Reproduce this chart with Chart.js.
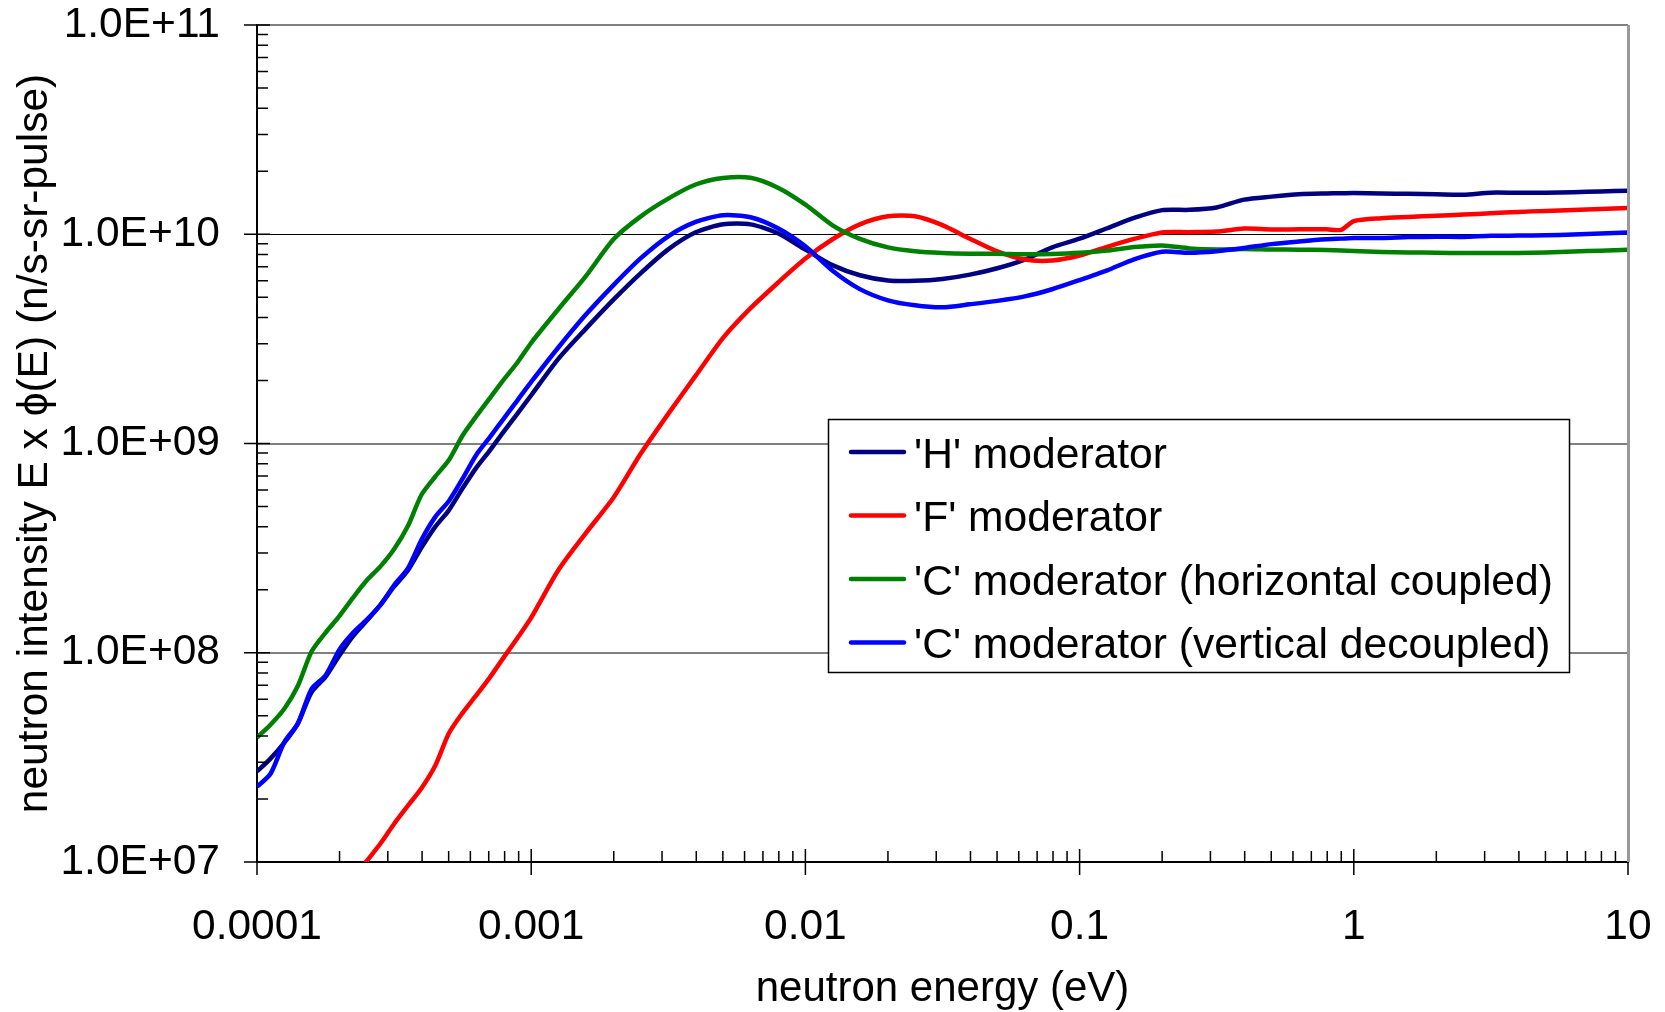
<!DOCTYPE html>
<html>
<head>
<meta charset="utf-8">
<script src="https://cdn.jsdelivr.net/npm/chart.js@4.4.1/dist/chart.umd.min.js"></script>
<style>
  html, body { margin: 0; padding: 0; background: #fff; }
  #fluxChart { display: block; }
</style>
</head>
<body>
<canvas id="fluxChart" width="1665" height="1012" style="width:1665px;height:1012px"></canvas>
<script>
// neutron energy (eV)
const energies = [0.0001, 0.000112, 0.000126, 0.000141, 0.000158, 0.000178, 0.0002, 0.000224, 0.000251, 0.000282,
  0.000316, 0.000355, 0.000398, 0.000447, 0.000501, 0.000562, 0.000631, 0.000708, 0.000794, 0.000891,
  0.001, 0.00126, 0.00158, 0.002, 0.00251, 0.00316, 0.00398, 0.00501, 0.00631, 0.00794,
  0.01, 0.0126, 0.0158, 0.02, 0.0251, 0.0316, 0.0398, 0.0501, 0.0631, 0.0794,
  0.1, 0.126, 0.158, 0.2, 0.251, 0.316, 0.398, 0.501, 0.631, 0.794, 0.9,
  1, 1.26, 1.58, 2, 2.51, 3.16, 3.98, 5.01, 6.31, 7.94, 10];

// E x phi(E) (n/s-sr-pulse)
const hModerator = [2.71e7, 3.12e7, 3.73e7, 4.60e7, 6.47e7, 7.69e7, 9.73e7, 1.201e8, 1.42e8, 1.694e8,
  2.07e8, 2.475e8, 3.18e8, 4.003e8, 4.80e8, 6.107e8, 7.67e8, 9.30e8, 1.14e9, 1.389e9,
  1.70e9, 2.55e9, 3.53e9, 4.88e9, 6.52e9, 8.47e9, 1.022e10, 1.116e10, 1.115e10, 1.011e10,
  8.44e9, 7.10e9, 6.37e9, 6.01e9, 5.99e9, 6.11e9, 6.41e9, 6.88e9, 7.57e9, 8.66e9,
  9.52e9, 1.068e10, 1.197e10, 1.304e10, 1.308e10, 1.343e10, 1.464e10, 1.513e10, 1.554e10, 1.567e10, 1.57e10,
  1.574e10, 1.565e10, 1.560e10, 1.552e10, 1.545e10, 1.580e10, 1.578e10, 1.580e10, 1.589e10, 1.602e10, 1.615e10];

const fModerator = [null, null, null, null, null, null, 6.88e6, 8.33e6, 1.009e7, 1.226e7,
  1.520e7, 1.857e7, 2.252e7, 2.891e7, 4.121e7, 5.159e7, 6.27e7, 7.65e7, 9.50e7, 1.176e8,
  1.471e8, 2.498e8, 3.723e8, 5.534e8, 8.95e8, 1.386e9, 2.109e9, 3.197e9, 4.432e9, 5.866e9,
  7.65e9, 9.49e9, 1.115e10, 1.218e10, 1.218e10, 1.105e10, 9.52e9, 8.28e9, 7.57e9, 7.49e9,
  7.91e9, 8.71e9, 9.50e9, 1.020e10, 1.023e10, 1.030e10, 1.064e10, 1.054e10, 1.056e10, 1.056e10, 1.05e10,
  1.156e10, 1.193e10, 1.209e10, 1.226e10, 1.242e10, 1.260e10, 1.279e10, 1.293e10, 1.307e10, 1.321e10, 1.335e10];

const cHorizontal = [3.933e7, 4.531e7, 5.413e7, 6.954e7, 1.011e8, 1.249e8, 1.502e8, 1.834e8, 2.215e8, 2.587e8,
  3.120e8, 4.031e8, 5.69e8, 6.954e8, 8.33e8, 1.092e9, 1.351e9, 1.653e9, 2.020e9, 2.438e9,
  3.030e9, 4.406e9, 6.295e9, 9.49e9, 1.218e10, 1.480e10, 1.729e10, 1.857e10, 1.861e10, 1.669e10,
  1.386e10, 1.100e10, 9.51e9, 8.65e9, 8.29e9, 8.13e9, 8.07e9, 8.07e9, 8.02e9, 8.05e9,
  8.15e9, 8.35e9, 8.68e9, 8.84e9, 8.56e9, 8.46e9, 8.50e9, 8.45e9, 8.44e9, 8.40e9, 8.36e9,
  8.32e9, 8.22e9, 8.18e9, 8.16e9, 8.13e9, 8.13e9, 8.13e9, 8.19e9, 8.28e9, 8.34e9, 8.44e9];

const cVertical = [2.29e7, 2.640e7, 3.757e7, 4.595e7, 6.705e7, 7.813e7, 1.038e8, 1.245e8, 1.435e8, 1.694e8,
  2.101e8, 2.527e8, 3.466e8, 4.459e8, 5.312e8, 6.791e8, 8.846e8, 1.076e9, 1.316e9, 1.609e9,
  1.969e9, 2.892e9, 4.121e9, 5.731e9, 7.685e9, 9.78e9, 1.145e10, 1.233e10, 1.206e10, 1.068e10,
  8.754e9, 6.673e9, 5.467e9, 4.832e9, 4.574e9, 4.474e9, 4.628e9, 4.804e9, 5.046e9, 5.461e9,
  6.04e9, 6.72e9, 7.59e9, 8.25e9, 8.16e9, 8.30e9, 8.60e9, 8.97e9, 9.23e9, 9.46e9, 9.53e9,
  9.60e9, 9.60e9, 9.69e9, 9.74e9, 9.71e9, 9.83e9, 9.85e9, 9.88e9, 9.98e9, 1.009e10, 1.020e10];

const seriesNames = ["'H' moderator", "'F' moderator", "'C' moderator (horizontal coupled)", "'C' moderator (vertical decoupled)"];
const seriesColors = ['#000080', '#ff0000', '#008000', '#0000ff'];

const xTickValues = [0.0001, 0.001, 0.01, 0.1, 1, 10];
const xTickLabels = ['0.0001', '0.001', '0.01', '0.1', '1', '10'];
const yTickValues = [1e7, 1e8, 1e9, 1e10, 1e11];
const yTickLabels = ['1.0E+07', '1.0E+08', '1.0E+09', '1.0E+10', '1.0E+11'];
const minorSteps = [2, 3, 4, 5, 6, 7, 8, 9];

const FAMILY = '"Liberation Sans", Arial, sans-serif';
const TICK_FONT = { family: FAMILY, size: 42.5 };

// Tick marks: majors cross the axis, minors point into the plot
const axisTicks = {
  id: 'axisTicks',
  afterDraw(chart) {
    const { ctx, chartArea: a, scales: { x, y } } = chart;
    ctx.save();
    ctx.strokeStyle = '#000';
    ctx.lineWidth = 1.5;
    ctx.beginPath();
    xTickValues.forEach((v, i) => {
      const px = x.getPixelForValue(v);
      ctx.moveTo(px, a.bottom - 13);
      ctx.lineTo(px, a.bottom + 13);
      if (i < xTickValues.length - 1) {
        minorSteps.forEach(m => {
          const mx = x.getPixelForValue(v * m);
          ctx.moveTo(mx, a.bottom);
          ctx.lineTo(mx, a.bottom - 11);
        });
      }
    });
    yTickValues.forEach((v, i) => {
      const py = y.getPixelForValue(v);
      ctx.moveTo(a.left - 13, py);
      ctx.lineTo(a.left + 13, py);
      if (i < yTickValues.length - 1) {
        minorSteps.forEach(m => {
          const my = y.getPixelForValue(v * m);
          ctx.moveTo(a.left, my);
          ctx.lineTo(a.left + 11, my);
        });
      }
    });
    ctx.stroke();

    // right edge of plot area
    ctx.strokeStyle = '#999';
    ctx.lineWidth = 3;
    ctx.beginPath();
    ctx.moveTo(a.right + 0.5, a.top);
    ctx.lineTo(a.right + 0.5, a.bottom);
    ctx.stroke();
    ctx.restore();
  }
};

// Boxed legend inside the plot
const boxLegend = {
  id: 'boxLegend',
  afterDraw(chart) {
    const { ctx } = chart;
    const left = 828.5, top = 419.5, w = 741, h = 253;
    ctx.save();
    ctx.fillStyle = '#fff';
    ctx.fillRect(left, top, w, h);
    ctx.strokeStyle = '#000';
    ctx.lineWidth = 1.5;
    ctx.strokeRect(left, top, w, h);
    ctx.font = `42.6px ${FAMILY}`;
    ctx.textBaseline = 'middle';
    ctx.lineCap = 'round';
    chart.data.datasets.forEach((ds, i) => {
      const cy = 452 + i * 63.5;
      ctx.strokeStyle = ds.borderColor;
      ctx.lineWidth = 4.5;
      ctx.beginPath();
      ctx.moveTo(851, cy);
      ctx.lineTo(904, cy);
      ctx.stroke();
      ctx.fillStyle = '#000';
      ctx.fillText(ds.label, 914, cy + 4);
    });
    ctx.restore();
  }
};

const allSeries = [hModerator, fModerator, cHorizontal, cVertical];

new Chart(document.getElementById('fluxChart'), {
  type: 'line',
  data: {
    datasets: seriesNames.map((name, i) => ({
      label: name,
      data: energies.map((e, j) => ({ x: e, y: allSeries[i][j] })),
      borderColor: seriesColors[i],
      backgroundColor: seriesColors[i],
      borderWidth: 4.5,
      pointRadius: 0,
      tension: 0.25,
      fill: false,
      order: 3 - i
    }))
  },
  options: {
    responsive: false,
    animation: false,
    devicePixelRatio: 1,
    layout: { padding: { left: 0, top: 25, right: 37, bottom: 0 } },
    plugins: { legend: { display: false }, tooltip: { enabled: false } },
    scales: {
      x: {
        type: 'logarithmic',
        min: 0.0001,
        max: 10,
        afterBuildTicks: s => { s.ticks = xTickValues.map(v => ({ value: v })); },
        afterFit: s => { s.height = 150; s.paddingLeft = 0; s.paddingRight = 0; },
        grid: { display: false, drawTicks: false },
        border: { display: true, color: '#000', width: 2 },
        ticks: {
          autoSkip: false, maxRotation: 0, padding: 40, color: '#000', font: TICK_FONT,
          callback: (v, i) => xTickLabels[i]
        },
        title: {
          display: true, text: 'neutron energy (eV)', color: '#000',
          font: { family: FAMILY, size: 42, lineHeight: 1.08 }, padding: { top: 0, bottom: 0 }
        }
      },
      y: {
        type: 'logarithmic',
        min: 1e7,
        max: 1e11,
        afterBuildTicks: s => { s.ticks = yTickValues.map(v => ({ value: v })); },
        afterFit: s => { s.width = 257; s.paddingTop = 0; s.paddingBottom = 0; },
        grid: {
          drawTicks: false,
          color: c => c.tick && c.tick.value === 1e7 ? 'rgba(0,0,0,0)' : (c.tick && c.tick.value === 1e10 ? '#000' : '#808080'),
          lineWidth: c => c.tick && c.tick.value === 1e10 ? 1 : 2
        },
        border: { display: true, color: '#000', width: 2 },
        ticks: {
          autoSkip: false, padding: 37, color: '#000', font: TICK_FONT,
          callback: (v, i) => yTickLabels[i]
        },
        title: {
          display: true, text: 'neutron intensity E x \u03d5(E) (n/s-sr-pulse)', color: '#000',
          font: { family: FAMILY, size: 42.5 }, padding: { top: 10, bottom: 0 }
        }
      }
    }
  },
  plugins: [axisTicks, boxLegend]
});
</script>
</body>
</html>
